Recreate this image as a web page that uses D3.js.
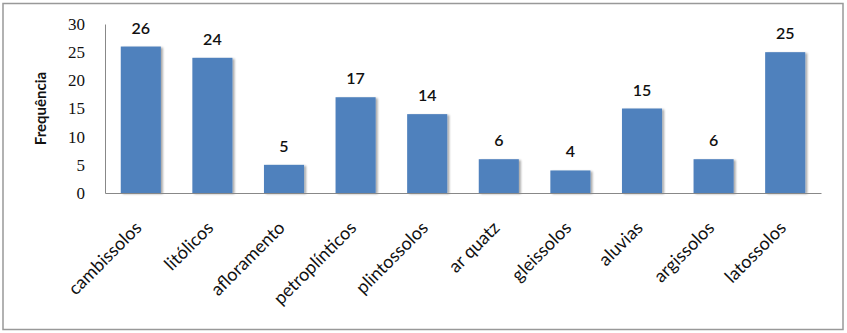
<!DOCTYPE html>
<html><head><meta charset="utf-8">
<script src="https://cdn.jsdelivr.net/npm/d3@7"></script>
<style>body{margin:0;background:#fff}svg{display:block}</style>
</head><body>
<script>
const categories = ["cambissolos","litólicos","afloramento","petroplínticos","plintossolos","ar quatz","gleissolos","aluvias","argissolos","latossolos"];
const values = [26,24,5,17,14,6,4,15,6,25];
const yTicks = [0,5,10,15,20,25,30];
const yTitle = "Frequência";

const W = 847, H = 333;
const m = {left:105, right:26, top:24, bottom:140};
const svg = d3.select("body").append("svg").attr("width",W).attr("height",H);

svg.append("rect").attr("x",3).attr("y",3.5).attr("width",840).attr("height",326)
  .attr("fill","#fff").attr("stroke","#999").attr("stroke-width",1.5);

const x = d3.scaleBand().domain(categories).range([m.left, W-m.right]).paddingInner(0.44).paddingOuter(0.22);
const y = d3.scaleLinear().domain([0,30]).range([H-m.bottom, m.top]);

const defs = svg.append("defs");
const f = defs.append("filter").attr("id","sh").attr("x","-20%").attr("y","-10%").attr("width","150%").attr("height","130%");
f.append("feGaussianBlur").attr("in","SourceAlpha").attr("stdDeviation",1.2).attr("result","b");
f.append("feOffset").attr("dx",2).attr("dy",1).attr("result","o");
f.append("feComponentTransfer").append("feFuncA").attr("type","linear").attr("slope",0.35);
const mg = f.append("feMerge"); mg.append("feMergeNode"); mg.append("feMergeNode").attr("in","SourceGraphic");

svg.append("g").selectAll("rect").data(values).join("rect")
  .attr("x",(d,i)=>x(categories[i])).attr("width",x.bandwidth())
  .attr("y",d=>y(d)).attr("height",d=>y(0)-y(d))
  .attr("fill","#4F81BD").attr("filter","url(#sh)");

svg.append("g").selectAll("text").data(values).join("text")
  .attr("x",(d,i)=>x(categories[i])+x.bandwidth()/2).attr("y",d=>y(d)-13)
  .attr("text-anchor","middle").attr("font-family","Lato, sans-serif").attr("font-weight","600")
  .attr("font-size",16).attr("fill","#111").text(d=>d);

const ya = svg.append("g").attr("transform",`translate(${m.left},0)`)
  .call(d3.axisLeft(y).tickValues(yTicks).tickSize(0).tickPadding(20));
ya.select(".domain").attr("stroke","#888");
ya.selectAll("text").attr("font-family","Liberation Serif, serif").attr("font-size",17).attr("fill","#111");

const xa = svg.append("g").attr("transform",`translate(0,${y(0)})`)
  .call(d3.axisBottom(x).tickSize(0).tickFormat(""));
xa.select(".domain").attr("stroke","#888");

svg.append("g").selectAll("text").data(categories).join("text")
  .attr("transform",(d)=>`translate(${x(d)+x.bandwidth()/2+2},${y(0)+36}) rotate(-45)`)
  .attr("text-anchor","end").attr("font-family","Lato, sans-serif").attr("font-size",18).attr("fill","#111")
  .text(d=>d);

svg.append("text").attr("transform",`translate(46,${(y(0)+m.top)/2}) rotate(-90)`)
  .attr("text-anchor","middle").attr("font-family","Lato, sans-serif").attr("font-weight","bold")
  .attr("font-size",15).attr("fill","#111").text(yTitle);
</script>
</body></html>
